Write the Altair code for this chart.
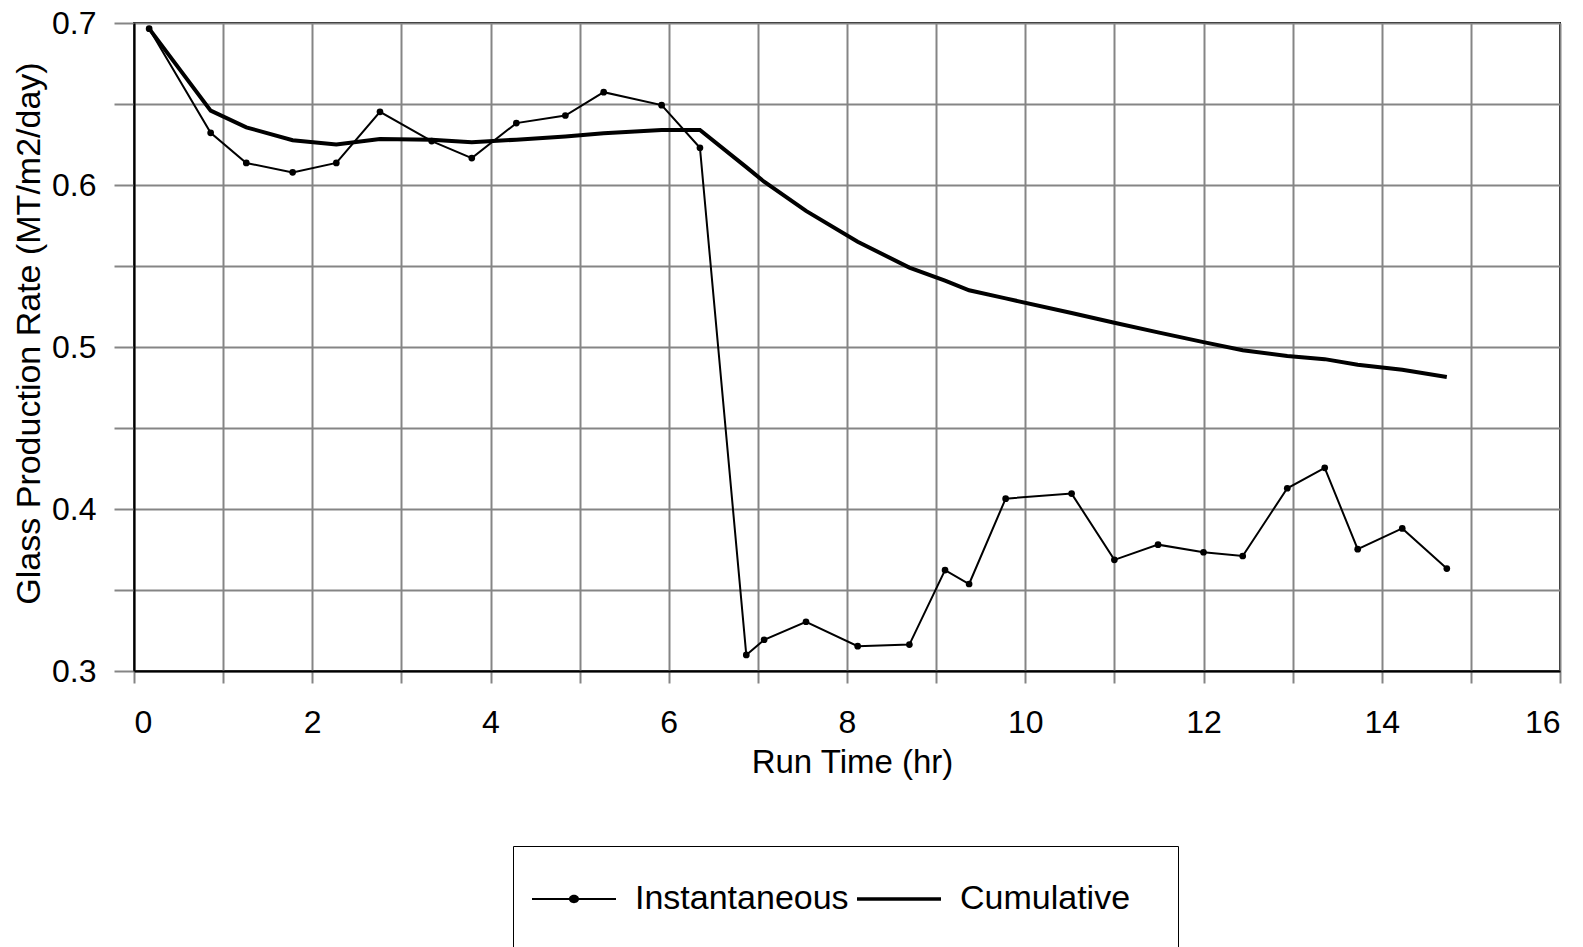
import altair as alt
import pandas as pd

# Run time (hr) of each sample
run_time = [0.17, 0.86, 1.26, 1.78, 2.27, 2.76, 3.34, 3.79, 4.29, 4.84, 5.27, 5.92, 6.35,
            6.87, 7.07, 7.54, 8.12, 8.70, 9.10, 9.37, 9.78, 10.52, 11.00, 11.49, 12.00,
            12.44, 12.94, 13.36, 13.73, 14.23, 14.73]

instantaneous = [0.6965, 0.6322, 0.6136, 0.6078, 0.6136, 0.6452, 0.6271, 0.6166, 0.6382,
                 0.6429, 0.6573, 0.6493, 0.6230, 0.3099, 0.3193, 0.3304, 0.3153, 0.3163,
                 0.3623, 0.3537, 0.4064, 0.4095, 0.3686, 0.3780, 0.3733, 0.3710, 0.4128,
                 0.4254, 0.3752, 0.3880, 0.3632]

cumulative = [0.6965, 0.6459, 0.6356, 0.6276, 0.6250, 0.6284, 0.6280, 0.6264, 0.6280,
              0.6300, 0.6320, 0.6340, 0.6340, 0.6110, 0.6020, 0.5840, 0.5650, 0.5490,
              0.5410, 0.5350, 0.5300, 0.5210, 0.5150, 0.5090, 0.5030, 0.4980, 0.4945,
              0.4925, 0.4890, 0.4860, 0.4815]

series_names = ["Instantaneous", "Cumulative"]
x_ticks = list(range(0, 17))
y_ticks = [0.30, 0.35, 0.40, 0.45, 0.50, 0.55, 0.60, 0.65, 0.70]

rows = []
for t, v in zip(run_time, instantaneous):
    rows.append({"t": t, "v": v, "series": series_names[0]})
for t, v in zip(run_time, cumulative):
    rows.append({"t": t, "v": v, "series": series_names[1]})
df = pd.DataFrame(rows)

FONT = "Liberation Sans"
GRID = "#858585"

x_enc = alt.X(
    "t:Q",
    scale=alt.Scale(domain=[0, 16], nice=False, zero=False),
    axis=alt.Axis(
        values=x_ticks,
        labelExpr="datum.value % 2 == 0 ? datum.label : ''",
        title="Run Time (hr)",
        grid=True, gridColor=GRID, gridWidth=2,
        tickColor=GRID, tickWidth=2, tickSize=12,
        domainColor="black", domainWidth=2,
        labelFont=FONT, labelFontSize=32, labelColor="black",
        labelBaseline="alphabetic", labelPadding=49, labelOverlap=False,
        titleFont=FONT, titleFontSize=33, titleFontWeight="normal", titleColor="black",
        titleBaseline="alphabetic", titleX=718, titleY=101, titleAlign="center",
    ),
)

y_enc = alt.Y(
    "v:Q",
    scale=alt.Scale(domain=[0.3, 0.7], nice=False, zero=False),
    axis=alt.Axis(
        values=y_ticks,
        labelExpr="round(datum.value * 100) % 10 == 0 ? format(datum.value, '.1f') : ''",
        title="Glass Production Rate (MT/m2/day)",
        grid=True, gridColor=GRID, gridWidth=2,
        tickColor=GRID, tickWidth=2, tickSize=20,
        domainColor="black", domainWidth=2,
        labelFont=FONT, labelFontSize=32, labelColor="black", labelPadding=18,
        labelOverlap=False,
        titleFont=FONT, titleFontSize=34, titleFontWeight="normal", titleColor="black",
        titleAngle=270, titleBaseline="alphabetic", titleAlign="center",
        titleX=-95, titleY=310,
    ),
)

base = alt.Chart(df)

inst_line = base.transform_filter(alt.datum.series == series_names[0]).mark_line(
    color="black", strokeWidth=2
).encode(x=x_enc, y=y_enc)

inst_pts = base.transform_filter(alt.datum.series == series_names[0]).mark_circle(
    color="black", size=45, opacity=1
).encode(x=x_enc, y=y_enc)

cum_line = base.transform_filter(alt.datum.series == series_names[1]).mark_line(
    color="black", strokeWidth=4
).encode(x=x_enc, y=y_enc)

inst_symbol = ("M-1,-0.025H1V0.025H-1Z"
               "M-0.12,0A0.12,0.1,0,1,1,0.12,0A0.12,0.1,0,1,1,-0.12,0Z")
cum_symbol = "M-1,-0.04H1V0.04H-1Z"

legend_layer = base.mark_point(
    filled=True, color="black", fill="black", stroke="black", strokeWidth=2, opacity=0
).encode(
    x=x_enc,
    y=y_enc,
    shape=alt.Shape(
        "series:N",
        scale=alt.Scale(domain=series_names, range=[inst_symbol, cum_symbol]),
        legend=alt.Legend(
            orient="none", legendX=379, legendY=823, direction="horizontal",
            title="M" * 39, titleOrient="bottom", titleFontSize=19.8, titlePadding=8,
            titleColor="white", titleOpacity=0, titleLimit=2000,
            strokeColor="black", padding=11, symbolOffset=8,
            symbolSize=7056, symbolStrokeWidth=0, symbolFillColor="black",
            symbolStrokeColor="black", symbolOpacity=1,
            labelFont=FONT, labelFontSize=34, labelColor="black", labelOffset=19,
            labelLimit=500, columnPadding=0,
        ),
    ),
)

chart = alt.layer(inst_line, cum_line, inst_pts, legend_layer).properties(
    width=1426,
    height=648,
    padding={"left": 126, "top": 15, "right": 15, "bottom": 280},
    autosize=alt.AutoSizeParams(type="none"),
    background="white",
).configure_view(
    stroke="black", strokeWidth=2
)

chart.save("out.html", embed_options={"renderer": "svg", "actions": False})
